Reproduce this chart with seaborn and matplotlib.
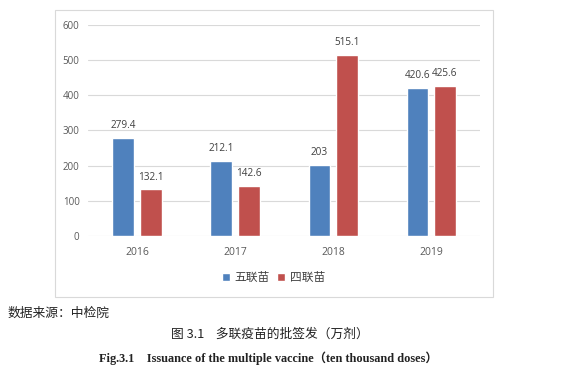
import pandas as pd
import matplotlib
matplotlib.use("Agg")
import matplotlib.pyplot as plt
import matplotlib.patches as patches
import seaborn as sns

# data
years = ['2016', '2017', '2018', '2019']
five_vals = [279.4, 212.1, 203, 420.6]
four_vals = [132.1, 142.6, 515.1, 425.6]
five_labels = ['279.4', '212.1', '203', '420.6']
four_labels = ['132.1', '142.6', '515.1', '425.6']
series = ['五联苗', '四联苗']
yticks = [0, 100, 200, 300, 400, 500, 600]

df = pd.DataFrame({
    'year': years * 2,
    'value': five_vals + four_vals,
    'kind': [series[0]] * 4 + [series[1]] * 4,
})

sns.set_style('white')
plt.rcParams['font.family'] = ['Noto Sans CJK SC', 'DejaVu Sans']

fig = plt.figure(figsize=(5.67, 3.68), dpi=100)
ax = fig.add_axes([0.155, 0.359, 0.692, 0.573])

sns.barplot(data=df, x='year', y='value', hue='kind', hue_order=series,
            palette=['#4F81BD', '#C0504D'], width=0.56, gap=0.21,
            saturation=1, ax=ax, legend=True)

ax.set_xlim(-0.5, 3.5)
ax.set_ylim(0, 600)
ax.set_yticks(yticks)
ax.set_yticklabels([str(t) for t in yticks])
ax.grid(axis='y', color='#D9D9D9', linewidth=0.8)
ax.set_axisbelow(True)
for s in ax.spines.values():
    s.set_visible(False)
ax.tick_params(axis='x', length=0, labelsize=7.5, colors='#595959', pad=8)
ax.tick_params(axis='y', length=0, labelsize=7, colors='#595959', pad=6)
for lbl in ax.get_xticklabels() + ax.get_yticklabels():
    lbl.set_family('Open Sans')
ax.set_xlabel('')
ax.set_ylabel('')

# value labels
for cont, labs in zip(ax.containers, [five_labels, four_labels]):
    ax.bar_label(cont, labels=labs, padding=5, fontsize=7.2, color='#404040',
                 family='Open Sans')

# legend under the chart
h, l = ax.get_legend_handles_labels()
ax.legend(h, l, loc='center', bbox_to_anchor=(0.482, 0.245),
          bbox_transform=fig.transFigure, ncol=2, frameon=False,
          fontsize=8.5, handlelength=0.7, handleheight=0.7, handletextpad=0.4,
          columnspacing=0.6, labelcolor='#404040')

# chart border box
fig.patches.append(patches.Rectangle((55 / 567, 1 - 297 / 368), 438 / 567, 287 / 368,
                                     transform=fig.transFigure, fill=False,
                                     edgecolor='#D9D9D9', linewidth=0.8))

# captions
fig.text(8 / 567, 1 - 313 / 368, '数据来源：中检院', fontsize=9.2, va='center',
         color='#222222')
fig.text(270 / 567, 1 - 334 / 368, '图 3.1    多联疫苗的批签发（万剂）', fontsize=9.2,
         ha='center', va='center', color='#222222')
fig.text(268 / 567, 1 - 358 / 368,
         'Fig.3.1    Issuance of the multiple vaccine（ten thousand doses）',
         fontsize=8.8, ha='center', va='center', fontweight='bold',
         family=['Liberation Serif', 'Noto Sans CJK SC'], color='#222222')

fig.savefig('out.png', dpi=100)
